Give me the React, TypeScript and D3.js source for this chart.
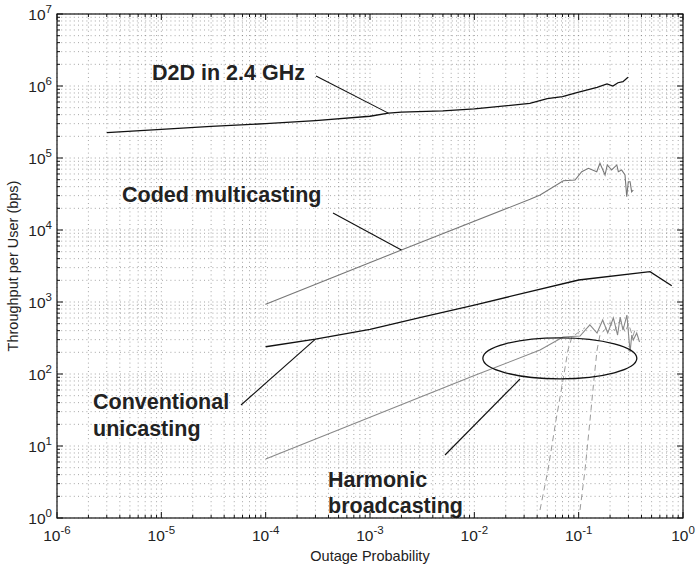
import React from "react";
import * as d3 from "d3";

// Axis decades
const xExponents = [-6, -5, -4, -3, -2, -1, 0];
const yExponents = [0, 1, 2, 3, 4, 5, 6, 7];

// Series: [outage probability, throughput per user (bps)]
const d2d: [number, number][] = [
  [3e-6, 2.25e5], [1e-5, 2.5e5], [3e-5, 2.75e5], [1e-4, 3.0e5], [3e-4, 3.3e5],
  [1e-3, 3.8e5], [1.5e-3, 4.2e5], [2e-3, 4.35e5], [5e-3, 4.5e5], [1e-2, 4.8e5],
  [0.0176, 5.2e5], [0.034, 5.75e5], [0.05, 6.7e5], [0.07, 7.1e5], [0.096, 8.1e5],
  [0.15, 9.6e5], [0.187, 1.07e6], [0.213, 1.0e6], [0.238, 1.11e6], [0.266, 1.15e6],
  [0.297, 1.32e6],
];

const codedMulticast: [number, number][] = [
  [1e-4, 930], [2e-3, 5270], [0.0342, 26700], [0.0427, 30600], [0.0713, 48400],
  [0.0923, 49500], [0.107, 64500], [0.124, 71900], [0.149, 64500], [0.16, 84400],
  [0.179, 58000], [0.188, 80000], [0.207, 68100], [0.232, 80000], [0.24, 64500],
  [0.258, 68100], [0.278, 58000], [0.289, 29000], [0.299, 46900], [0.311, 46900],
  [0.322, 34000], [0.334, 35900],
];

const conventionalUnicast: [number, number][] = [
  [1e-4, 239], [3e-4, 305], [1e-3, 418], [3e-3, 605], [1e-2, 908], [0.1, 2020],
  [0.483, 2640], [0.78, 1680],
];

const harmonicBroadcast: [number, number][] = [
  [1e-4, 6.6], [1e-3, 25], [1e-2, 95], [0.0426, 215], [0.0708, 327], [0.103, 337],
  [0.128, 480], [0.15, 371], [0.17, 562], [0.19, 371], [0.215, 600], [0.236, 348],
  [0.25, 619], [0.266, 408], [0.29, 659], [0.311, 202], [0.323, 348], [0.334, 297],
  [0.36, 371], [0.383, 278],
];

const harmonicDashedA: [number, number][] = [
  [0.0426, 1.29], [0.0508, 4.64], [0.0607, 23], [0.0708, 82.6], [0.079, 215],
  [0.0863, 327], [0.1, 380], [0.115, 440],
];

const harmonicDashedB: [number, number][] = [
  [0.103, 1.29], [0.115, 4.64], [0.1285, 23], [0.14, 82.6], [0.15, 215],
  [0.16, 348], [0.18, 420], [0.2, 520], [0.22, 400], [0.25, 560], [0.28, 380],
  [0.3, 500], [0.33, 330], [0.35, 430],
];

const W = 696;
const H = 566;
const M = { left: 57, right: 13, top: 14, bottom: 48 };
const FONT = "'Liberation Sans', Arial, Helvetica, sans-serif";

export default function App() {
  const x = d3.scaleLog().domain([1e-6, 1]).range([M.left, W - M.right]);
  const y = d3.scaleLog().domain([1, 1e7]).range([H - M.bottom, M.top]);
  const [x0, x1] = x.range();
  const [y0, y1] = [y.range()[1], y.range()[0]];

  const line = d3
    .line<[number, number]>()
    .x((d) => x(d[0]))
    .y((d) => y(d[1]));

  const xMajor = xExponents.map((e) => Math.pow(10, e));
  const yMajor = yExponents.map((e) => Math.pow(10, e));
  const xMinor: number[] = [];
  xExponents.slice(0, -1).forEach((e) => {
    for (let k = 2; k <= 9; k++) xMinor.push(k * Math.pow(10, e));
  });
  const yMinor: number[] = [];
  yExponents.slice(0, -1).forEach((e) => {
    for (let k = 2; k <= 9; k++) yMinor.push(k * Math.pow(10, e));
  });

  const gridStyle = {
    stroke: "#6a6a6a",
    strokeWidth: 0.6,
    strokeDasharray: "1 3.2",
    fill: "none",
  } as const;

  const majorLen = 6;
  const minorLen = 3;

  return (
    <svg
      width={W}
      height={H}
      style={{ position: "absolute", left: 0, top: 0, background: "#fff" }}
      fontFamily={FONT}
    >
      <rect x={0} y={0} width={W} height={H} fill="#fff" />
      {/* dotted grid */}
      <g>
        {[...xMajor, ...xMinor].map((v, i) => (
          <line key={"gx" + i} x1={x(v)} x2={x(v)} y1={y0} y2={y1} style={gridStyle} />
        ))}
        {[...yMajor, ...yMinor].map((v, i) => (
          <line key={"gy" + i} x1={x0} x2={x1} y1={y(v)} y2={y(v)} style={gridStyle} />
        ))}
      </g>

      {/* series */}
      <g fill="none">
        <path d={line(harmonicDashedA) || ""} stroke="#9a9a9a" strokeWidth={1} strokeDasharray="6 4" />
        <path d={line(harmonicDashedB) || ""} stroke="#9a9a9a" strokeWidth={1} strokeDasharray="6 4" />
        <path d={line(harmonicBroadcast) || ""} stroke="#888" strokeWidth={1.1} />
        <path d={line(codedMulticast) || ""} stroke="#777" strokeWidth={1.1} />
        <path d={line(conventionalUnicast) || ""} stroke="#111" strokeWidth={1.3} />
        <path d={line(d2d) || ""} stroke="#111" strokeWidth={1.3} />
      </g>

      {/* annotations */}
      <g stroke="#111" strokeWidth={1.1} fill="none">
        <line x1={316} y1={76} x2={x(1.5e-3)} y2={y(4.2e5)} />
        <line x1={333} y1={213} x2={x(2e-3)} y2={y(5270)} />
        <line x1={241} y1={405} x2={x(3e-4)} y2={y(305)} />
        <line x1={445} y1={455} x2={520} y2={379} />
        <ellipse cx={x(0.066)} cy={y(165)} rx={77} ry={20.5} strokeWidth={1.3} />
      </g>
      <g fontWeight="bold" fontSize={21.5} fill="#222">
        <text x={152} y={80}>D2D in 2.4 GHz</text>
        <text x={122} y={202}>Coded multicasting</text>
        <text x={93} y={409}>Conventional</text>
        <text x={93} y={436}>unicasting</text>
        <text x={328} y={487}>Harmonic</text>
        <text x={328} y={513}>broadcasting</text>
      </g>

      {/* ticks */}
      <g stroke="#111" strokeWidth={1}>
        {xMajor.map((v, i) => (
          <g key={"tx" + i}>
            <line x1={x(v)} x2={x(v)} y1={y1} y2={y1 - majorLen} />
            <line x1={x(v)} x2={x(v)} y1={y0} y2={y0 + majorLen} />
          </g>
        ))}
        {xMinor.map((v, i) => (
          <g key={"txm" + i}>
            <line x1={x(v)} x2={x(v)} y1={y1} y2={y1 - minorLen} />
            <line x1={x(v)} x2={x(v)} y1={y0} y2={y0 + minorLen} />
          </g>
        ))}
        {yMajor.map((v, i) => (
          <g key={"ty" + i}>
            <line x1={x0} x2={x0 + majorLen} y1={y(v)} y2={y(v)} />
            <line x1={x1} x2={x1 - majorLen} y1={y(v)} y2={y(v)} />
          </g>
        ))}
        {yMinor.map((v, i) => (
          <g key={"tym" + i}>
            <line x1={x0} x2={x0 + minorLen} y1={y(v)} y2={y(v)} />
            <line x1={x1} x2={x1 - minorLen} y1={y(v)} y2={y(v)} />
          </g>
        ))}
        <rect x={x0} y={y0} width={x1 - x0} height={y1 - y0} fill="none" strokeWidth={1.2} />
      </g>

      {/* tick labels */}
      <g fontSize={15.5} fill="#222">
        {xExponents.map((e) => (
          <text key={"lx" + e} x={x(Math.pow(10, e))} y={y1 + 23} textAnchor="middle">
            10<tspan fontSize={11.5} dy={-7}>{e}</tspan>
          </text>
        ))}
        {yExponents.map((e) => (
          <text key={"ly" + e} x={x0 - 5} y={y(Math.pow(10, e)) + 6} textAnchor="end">
            10<tspan fontSize={11.5} dy={-7}>{e}</tspan>
          </text>
        ))}
      </g>

      {/* axis titles */}
      <g fontSize={14.5} fill="#222">
        <text x={(x0 + x1) / 2} y={H - 5} textAnchor="middle">Outage Probability</text>
        <text
          transform={`translate(18, ${(y0 + y1) / 2}) rotate(-90)`}
          textAnchor="middle"
        >
          Throughput per User (bps)
        </text>
      </g>
    </svg>
  );
}
